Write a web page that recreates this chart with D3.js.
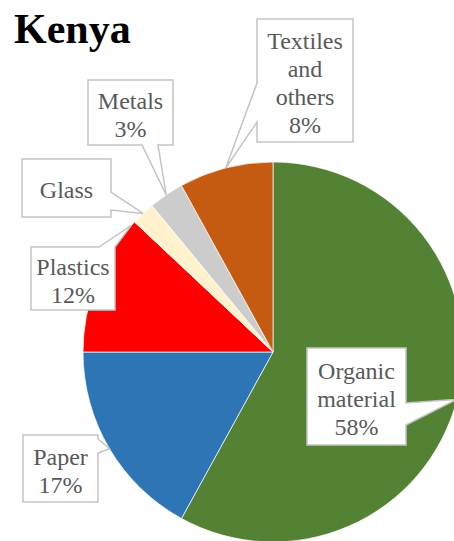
<!DOCTYPE html>
<html>
<head>
<meta charset="utf-8">
<script src="https://cdn.jsdelivr.net/npm/d3@7"></script>
<style>
  html, body { margin: 0; padding: 0; background: #fff; overflow: hidden; }
  svg { display: block; }
</style>
</head>
<body>
<script>
// waste composition, Kenya (share of total, %)
const categories = ["Organic material", "Paper", "Plastics", "Glass", "Metals", "Textiles and others"];
const shares = [58, 17, 12, 2, 3, 8];
const labelLines = [
  ["Organic", "material", "58%"],
  ["Paper", "17%"],
  ["Plastics", "12%"],
  ["Glass"],
  ["Metals", "3%"],
  ["Textiles", "and", "others", "8%"]
];
const sliceColors = ["#548235", "#2e75b6", "#ff0000", "#fff2cc", "#cdcccc", "#c55a11"];

// callout boxes: box, side where the pointer leaves, pointer base offsets, where along the slice it points
const callouts = [
  { x: 307, y: 348, w: 99, h: 97, side: "right", b1: 55, b2: 77, at: 0.5 },
  { x: 23, y: 435, w: 75, h: 67, side: "right", b1: 4, b2: 18, at: 0.5 },
  { x: 31, y: 247, w: 84, h: 63, side: "top", b1: 68, b2: 84, at: 0.97 },
  { x: 22, y: 159, w: 89, h: 58, side: "right", b1: 33, b2: 51, at: 0.5 },
  { x: 88, y: 80, w: 85, h: 65, side: "bottom", b1: 54, b2: 70, at: 0.5 },
  { x: 257, y: 19, w: 96, h: 123, side: "left", b1: 64, b2: 103, at: 0.5 }
];

var width = 454, height = 541;
var cx = 273, cy = 352, radius = 190;

var svg = d3.select("body").append("svg")
  .attr("width", width)
  .attr("height", height);

svg.append("text")
  .attr("x", 14)
  .attr("y", 43)
  .style("font-family", "'Liberation Serif', 'Times New Roman', serif")
  .style("font-weight", "700")
  .style("font-size", "42px")
  .attr("fill", "#000")
  .text("Kenya");

var data = categories.map(function (c, i) {
  return { name: c, value: shares[i], color: sliceColors[i], lines: labelLines[i], box: callouts[i] };
});

var pie = d3.pie().sort(null).value(function (d) { return d.value; });
var arc = d3.arc().innerRadius(0).outerRadius(radius);
var arcs = pie(data);

var chart = svg.append("g").attr("transform", "translate(" + cx + "," + cy + ")");

chart.selectAll("path")
  .data(arcs)
  .enter()
  .append("path")
  .attr("d", arc)
  .attr("fill", function (d) { return d.data.color; })
  .attr("stroke", "#fff")
  .attr("stroke-width", 0.7);

function calloutPath(b, tip) {
  var x = b.x, y = b.y, w = b.w, h = b.h;
  var p = d3.path();
  p.moveTo(x, y);
  if (b.side === "top") { p.lineTo(x + b.b1, y); p.lineTo(tip[0], tip[1]); p.lineTo(x + b.b2, y); }
  p.lineTo(x + w, y);
  if (b.side === "right") { p.lineTo(x + w, y + b.b1); p.lineTo(tip[0], tip[1]); p.lineTo(x + w, y + b.b2); }
  p.lineTo(x + w, y + h);
  if (b.side === "bottom") { p.lineTo(x + b.b2, y + h); p.lineTo(tip[0], tip[1]); p.lineTo(x + b.b1, y + h); }
  p.lineTo(x, y + h);
  if (b.side === "left") { p.lineTo(x, y + b.b2); p.lineTo(tip[0], tip[1]); p.lineTo(x, y + b.b1); }
  p.closePath();
  return p.toString();
}

var labels = svg.append("g").attr("class", "labels");

arcs.forEach(function (a) {
  var b = a.data.box;
  var ang = a.startAngle + (a.endAngle - a.startAngle) * b.at;
  var tip = [cx + Math.sin(ang) * radius, cy - Math.cos(ang) * radius];

  labels.append("path")
    .attr("d", calloutPath(b, tip))
    .attr("fill", "#fff")
    .attr("stroke", "#c4c4c4")
    .attr("stroke-width", 1.5)
    .attr("stroke-linejoin", "miter");

  var n = a.data.lines.length;
  var lh = 28;
  var midY = b.y + b.h / 2 + 2;
  labels.append("text")
    .attr("text-anchor", "middle")
    .style("font-family", "'Liberation Serif', 'Times New Roman', serif")
    .style("font-size", "24px")
    .attr("fill", "#595959")
    .selectAll("tspan")
    .data(a.data.lines)
    .enter()
    .append("tspan")
    .attr("x", b.x + b.w / 2)
    .attr("y", function (d, i) { return midY + (i - (n - 1) / 2) * lh; })
    .attr("dominant-baseline", "central")
    .text(function (d) { return d; });
});
</script>
</body>
</html>
